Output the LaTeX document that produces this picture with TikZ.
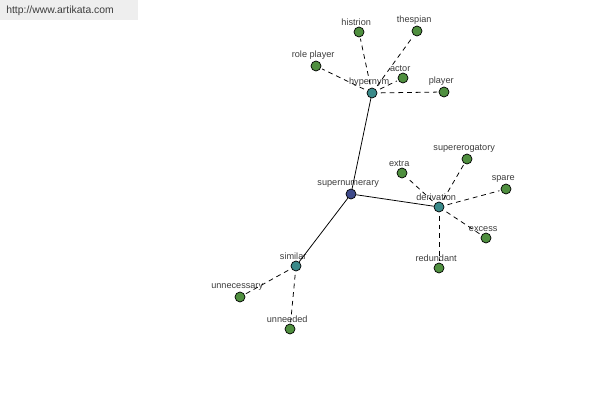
\documentclass[tikz,border=0pt]{standalone}
\usepackage{fontspec}
\setmainfont{Liberation Sans}
\usetikzlibrary{positioning}
\definecolor{leafgreen}{HTML}{4F8F3F}
\definecolor{relteal}{HTML}{3A8A8A}
\definecolor{rootblue}{HTML}{3E4A8A}
\definecolor{labelgray}{HTML}{3C3C3C}
\definecolor{bannergray}{HTML}{EEEEEE}

\begin{document}
\begin{tikzpicture}[
    x=0.025cm, y=-0.025cm,
    word/.style={draw, circle, inner sep=0pt, minimum size=0.25cm, fill=leafgreen, line width=0.5pt,
        label={[font=\fontsize{6.5}{7}\selectfont, text=labelgray, inner sep=1pt, label distance=-0.5pt, xshift=-0.07cm]above:#1}},
    relation/.style={word=#1, fill=relteal},
    root/.style={word=#1, fill=rootblue},
    solidlink/.style={line width=0.55pt},
    dashlink/.style={line width=0.55pt, dash pattern=on 3.4pt off 2.8pt, shorten <=2.5pt, shorten >=1pt}
]
    \useasboundingbox (0,0) rectangle (600,400);
    % Banner
    \fill[bannergray] (0,0) rectangle (138,20);
    \node (banner) [font=\fontsize{7.4}{8}\selectfont, text=labelgray, anchor=west, inner sep=0pt] at (6,11) {http://www.artikata.com};

    % Central word and relations
    \node (supernum) [root=supernumerary] at (351,194) {};
    \node (hypernym) [relation=hypernym] at (372,93) {};
    \node (deriv) [relation=derivation] at (439,207) {};
    \node (similar) [relation=similar] at (296,266) {};

    % Hypernym group
    \node (histrion) [word=histrion] at (359,32) {};
    \node (thespian) [word=thespian] at (417,31) {};
    \node (roleplayer) [word=role player] at (316,66) {};
    \node (actor) [word=actor] at (403,78) {};
    \node (player) [word=player] at (444,92) {};

    % Derivation group
    \node (extra) [word=extra] at (402,173) {};
    \node (supererog) [word=supererogatory] at (467,159) {};
    \node (spare) [word=spare] at (506,189) {};
    \node (excess) [word=excess] at (486,238) {};
    \node (redundant) [word=redundant] at (439,268) {};

    % Similar group
    \node (unnecessary) [word=unnecessary] at (240,297) {};
    \node (unneeded) [word=unneeded] at (290,329) {};

    % Connections
    \draw [solidlink] (supernum) -- (hypernym);
    \draw [solidlink] (supernum) -- (deriv);
    \draw [solidlink] (supernum) -- (similar);

    \foreach \w in {histrion, thespian, roleplayer, actor, player}
        \draw [dashlink] (hypernym) -- (\w);
    \foreach \w in {extra, supererog, spare, excess, redundant}
        \draw [dashlink] (deriv) -- (\w);
    \foreach \w in {unnecessary, unneeded}
        \draw [dashlink] (similar) -- (\w);
\end{tikzpicture}
\end{document}
